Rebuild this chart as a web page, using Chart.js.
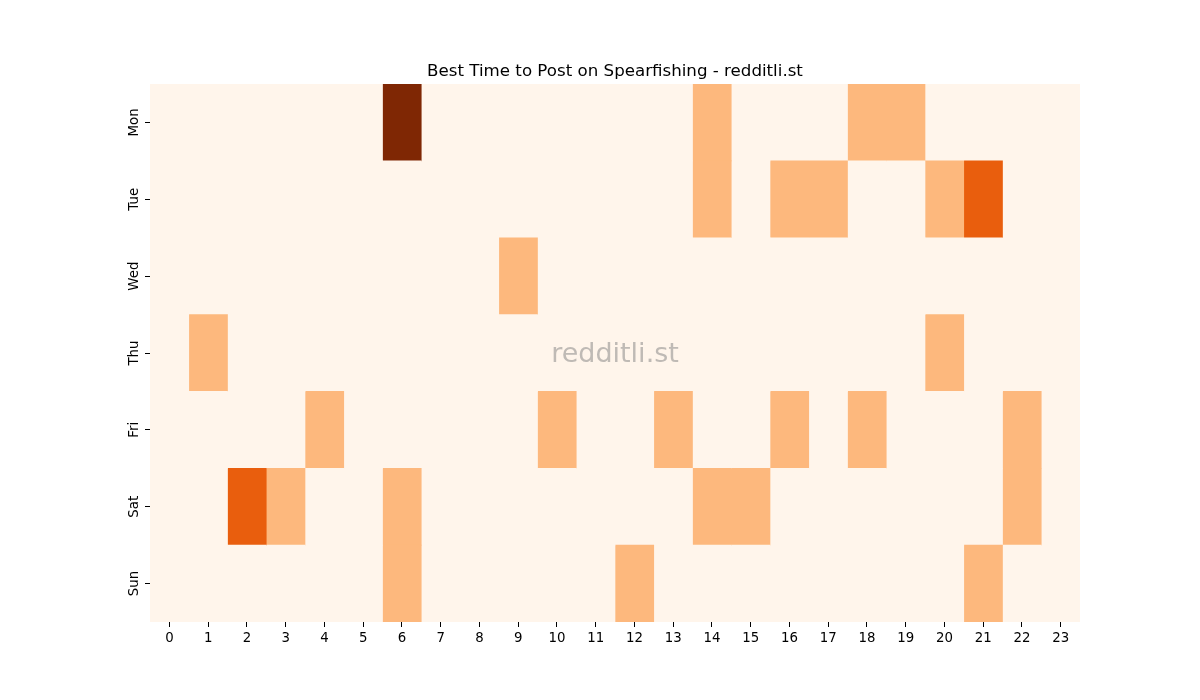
<!DOCTYPE html>
<html>
<head>
<meta charset="utf-8">
<script src="https://cdn.jsdelivr.net/npm/chart.js@4/dist/chart.umd.min.js"></script>
<style>
html,body{margin:0;padding:0;background:#fff;}
#wrap{width:1200px;height:700px;position:relative;}
</style>
</head>
<body>
<div id="wrap"><canvas id="c" width="1200" height="700"></canvas></div>
<script>
const days = ['Mon','Tue','Wed','Thu','Fri','Sat','Sun'];
const hours = ['0','1','2','3','4','5','6','7','8','9','10','11','12','13','14','15','16','17','18','19','20','21','22','23'];
// values per day, hour 0..23
const mon = [0,0,0,0,0,0,3,0,0,0,0,0,0,0,1,0,0,0,1,1,0,0,0,0];
const tue = [0,0,0,0,0,0,0,0,0,0,0,0,0,0,1,0,1,1,0,0,1,2,0,0];
const wed = [0,0,0,0,0,0,0,0,0,1,0,0,0,0,0,0,0,0,0,0,0,0,0,0];
const thu = [0,1,0,0,0,0,0,0,0,0,0,0,0,0,0,0,0,0,0,0,1,0,0,0];
const fri = [0,0,0,0,1,0,0,0,0,0,1,0,0,1,0,0,1,0,1,0,0,0,1,0];
const sat = [0,0,2,1,0,0,1,0,0,0,0,0,0,0,1,1,0,0,0,0,0,0,1,0];
const sun = [0,0,0,0,0,0,1,0,0,0,0,0,1,0,0,0,0,0,0,0,0,1,0,0];
const grid = [mon,tue,wed,thu,fri,sat,sun];
const palette = ['#fff5eb','#fdb87d','#e95e0d','#7f2704'];

const datasets = hours.map((h, hi) => ({
  label: h,
  data: grid.map(row => [hi - 0.5, hi + 0.5]),
  backgroundColor: grid.map(row => palette[row[hi]]),
  borderWidth: 0,
  borderSkipped: false,
  barPercentage: 1,
  categoryPercentage: 1,
  grouped: false
}));

const watermark = {
  id: 'watermark',
  afterDatasetsDraw(chart) {
    const a = chart.chartArea, ctx = chart.ctx;
    ctx.save();
    ctx.font = '27px "DejaVu Sans"';
    ctx.fillStyle = 'rgba(128,128,128,0.5)';
    ctx.textAlign = 'center';
    ctx.textBaseline = 'middle';
    ctx.fillText('redditli.st', (a.left + a.right) / 2, (a.top + a.bottom) / 2 + 2);
    ctx.restore();
  }
};
const bg = {
  id: 'bg',
  beforeDatasetsDraw(chart) {
    const a = chart.chartArea, ctx = chart.ctx;
    ctx.save();
    ctx.fillStyle = palette[0];
    ctx.fillRect(a.left, a.top, a.right - a.left, a.bottom - a.top);
    ctx.restore();
  }
};

new Chart(document.getElementById('c'), {
  type: 'bar',
  data: { labels: days, datasets },
  plugins: [bg, watermark],
  options: {
    indexAxis: 'y',
    responsive: false,
    animation: false,
    layout: { padding: { left: 110, right: 120, top: 0, bottom: 38 } },
    plugins: {
      legend: { display: false },
      tooltip: { enabled: false },
      title: {
        display: true,
        fullSize: false,
        text: 'Best Time to Post on Spearfishing - redditli.st',
        color: '#000',
        font: { family: 'DejaVu Sans', size: 16.67, weight: 'normal' },
        padding: { top: 62, bottom: 2 }
      }
    },
    scales: {
      x: {
        type: 'linear',
        min: -0.5,
        max: 23.5,
        afterBuildTicks(scale) { scale.ticks = hours.map((h, i) => ({ value: i })); },
        afterFit(scale) { scale.height = 40; },
        ticks: {
          color: '#000',
          font: { family: 'DejaVu Sans', size: 13.33 },
          padding: 4,
          autoSkip: false,
          maxRotation: 0,
          callback: (v, i) => hours[i]
        },
        grid: { drawOnChartArea: false, drawTicks: true, tickLength: 5, color: '#000', lineWidth: 1 },
        border: { display: false }
      },
      y: {
        type: 'category',
        offset: true,
        afterFit(scale) { scale.width = 40; },
        ticks: {
          color: '#000',
          font: { family: 'DejaVu Sans', size: 13.33 },
          padding: -4,
          crossAlign: 'center',
          minRotation: 90,
          maxRotation: 90
        },
        grid: { offset: false, drawOnChartArea: false, drawTicks: true, tickLength: 5, color: '#000', lineWidth: 1 },
        border: { display: false }
      }
    }
  }
});
</script>
</body>
</html>
